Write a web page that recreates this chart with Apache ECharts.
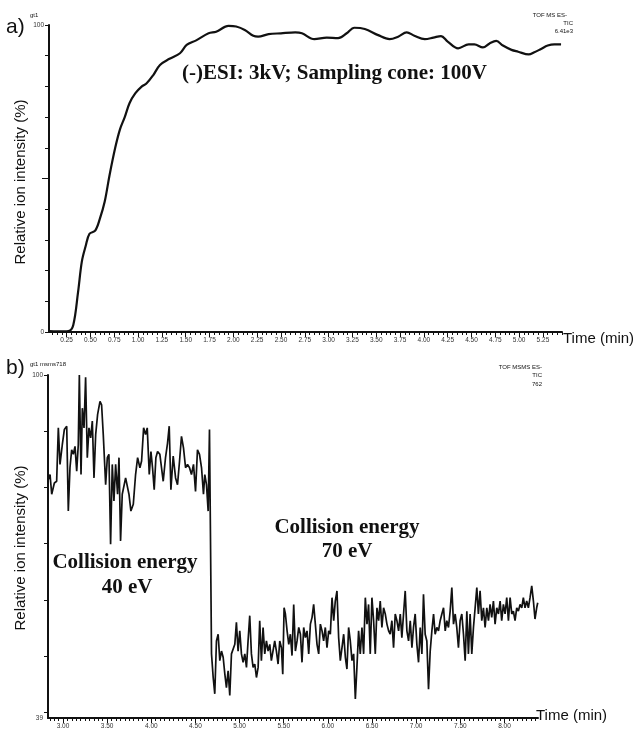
<!DOCTYPE html>
<html>
<head>
<meta charset="utf-8">
<script src="https://cdn.jsdelivr.net/npm/echarts@6/dist/echarts.min.js"></script>
<style>
html,body{margin:0;padding:0;background:#fff;}
#chart{width:633px;height:731px;}
</style>
</head>
<body>
<div id="chart"></div>
<script>
// ---------- DATA ----------
// Panel a) TIC, (-)ESI 3kV, sampling cone 100V : [time (min), relative intensity (%)]
var topData = [
 [0.065,0.3],[0.15,0.2],[0.22,0.2],[0.27,0.3],[0.32,2.3],[0.37,13],[0.41,23],[0.45,28],[0.49,32],[0.55,33],
 [0.60,37],[0.65,42.5],[0.70,51],[0.76,60],[0.81,66],[0.86,70],[0.91,74.5],[0.97,77.7],[1.04,80],[1.09,81],
 [1.16,83.7],[1.23,87],[1.33,89],[1.44,90.8],[1.51,93.5],[1.61,95],[1.74,97.3],[1.82,97.8],[1.95,99.7],[2.03,99.5],
 [2.12,98.4],[2.21,96.5],[2.26,96.2],[2.37,97],[2.50,97.3],[2.65,97.6],[2.72,97.3],[2.85,95.4],[2.98,95.9],[3.10,95.7],
 [3.19,97.3],[3.27,99.1],[3.38,98.7],[3.52,96.7],[3.64,95.4],[3.73,96.2],[3.82,97.6],[3.90,96.5],[4.01,95.4],[4.10,95.9],
 [4.18,96.4],[4.25,94.6],[4.36,92.4],[4.47,93.7],[4.53,93.7],[4.62,92.7],[4.69,94],[4.76,94.8],[4.83,93.3],[4.92,91.9],
 [4.99,91.3],[5.10,90.4],[5.16,91.1],[5.23,92.2],[5.30,93.3],[5.37,93.7],[5.44,93.7]
];
// Panel b) TIC, MS/MS of m/z 718 : collision energy 40 eV then 70 eV
var bottomData = [
 [2.827,81.1],[2.853,82.3],[2.872,78.8],[2.902,80.8],[2.928,81.1],[2.947,90.6],[2.966,84.1],[2.992,87.6],[3.015,90.3],[3.042,90.9],
 [3.060,75.8],[3.079,83.5],[3.098,86.7],[3.117,85.9],[3.136,87.3],[3.155,82.9],[3.173,87.6],[3.185,100],[3.204,82.3],[3.219,94.1],
 [3.238,90.6],[3.256,99.6],[3.275,85.3],[3.294,90.6],[3.313,88.8],[3.332,91.8],[3.351,81.7],[3.370,89.4],[3.392,93.0],[3.419,95.3],
 [3.437,94.7],[3.456,89.4],[3.483,80.5],[3.502,85.3],[3.520,85.9],[3.539,69.9],[3.558,84.1],[3.577,77.6],[3.596,84.1],[3.618,78.8],
 [3.634,85.3],[3.652,70.5],[3.671,78.8],[3.690,78.8],[3.709,81.7],[3.728,81.7],[3.747,78.8],[3.769,75.8],[3.796,77.0],[3.822,82.3],
 [3.845,85.3],[3.871,83.5],[3.890,84.7],[3.913,90.6],[3.935,89.4],[3.954,90.6],[3.977,82.3],[3.996,86.4],[4.014,83.5],[4.033,79.6],
 [4.052,85.3],[4.071,86.4],[4.097,85.9],[4.116,83.5],[4.135,81.1],[4.161,85.3],[4.184,87.9],[4.203,90.9],[4.222,79.6],[4.248,85.6],
 [4.275,81.7],[4.297,80.5],[4.320,84.7],[4.342,89.1],[4.365,87.0],[4.388,83.5],[4.410,84.1],[4.433,83.5],[4.455,82.3],[4.478,84.1],
 [4.501,79.3],[4.523,86.7],[4.546,85.9],[4.569,83.5],[4.591,78.8],[4.606,82.3],[4.625,80.5],[4.644,75.8],[4.659,90.3],[4.670,71.7],
 [4.682,50.4],[4.701,46.2],[4.719,43.3],[4.738,52.7],[4.757,53.9],[4.776,49.2],[4.795,50.9],[4.814,49.8],[4.833,46.8],[4.851,44.4],
 [4.870,47.4],[4.889,43.0],[4.908,50.4],[4.927,50.7],[4.946,52.1],[4.964,56.0],[4.983,50.9],[5.002,54.5],[5.021,50.4],[5.040,48.9],
 [5.059,50.4],[5.078,48.0],[5.096,52.7],[5.115,57.2],[5.134,50.4],[5.153,48.0],[5.172,48.6],[5.191,46.2],[5.210,48.0],[5.228,56.3],
 [5.247,49.2],[5.266,55.1],[5.285,50.4],[5.304,52.7],[5.323,50.9],[5.342,52.1],[5.360,49.2],[5.379,49.2],[5.398,52.7],[5.417,50.9],
 [5.436,48.6],[5.455,52.7],[5.474,51.5],[5.489,46.8],[5.504,58.6],[5.519,57.5],[5.538,54.5],[5.557,52.1],[5.575,53.9],[5.594,50.1],
 [5.613,59.2],[5.632,50.9],[5.651,52.7],[5.670,55.1],[5.689,53.9],[5.707,48.9],[5.726,55.1],[5.745,53.3],[5.764,54.5],[5.783,50.4],
 [5.802,55.7],[5.821,56.9],[5.839,59.2],[5.858,55.7],[5.877,52.1],[5.896,50.4],[5.915,55.7],[5.934,54.5],[5.952,52.7],[5.971,55.1],
 [5.990,51.5],[6.009,54.5],[6.028,53.9],[6.047,60.4],[6.066,56.3],[6.084,59.8],[6.103,61.6],[6.122,53.3],[6.141,49.2],[6.160,51.5],
 [6.179,53.9],[6.198,49.8],[6.216,47.7],[6.235,55.1],[6.254,52.7],[6.273,49.2],[6.292,50.4],[6.311,42.4],[6.329,48.0],[6.348,54.5],
 [6.367,50.4],[6.386,55.1],[6.405,50.4],[6.424,60.4],[6.443,55.7],[6.461,59.2],[6.480,50.4],[6.499,60.4],[6.518,56.3],[6.537,50.4],
 [6.556,58.6],[6.575,56.3],[6.593,59.8],[6.612,55.1],[6.631,58.6],[6.650,57.5],[6.669,55.7],[6.688,54.5],[6.706,53.9],[6.725,56.3],
 [6.744,51.5],[6.763,57.5],[6.782,56.3],[6.801,54.5],[6.820,57.5],[6.838,53.3],[6.857,57.5],[6.876,61.6],[6.895,54.5],[6.914,52.7],
 [6.933,56.3],[6.952,51.5],[6.970,55.1],[6.989,57.5],[7.008,52.1],[7.027,48.9],[7.046,55.1],[7.065,50.4],[7.083,61.0],[7.102,53.9],
 [7.121,52.7],[7.140,44.1],[7.159,50.9],[7.178,54.5],[7.197,57.5],[7.215,53.9],[7.234,55.1],[7.253,54.5],[7.272,56.3],[7.291,57.5],
 [7.310,58.6],[7.329,54.5],[7.347,56.3],[7.366,55.1],[7.385,58.0],[7.404,62.2],[7.423,55.7],[7.442,57.5],[7.460,55.1],[7.479,51.5],
 [7.498,56.3],[7.517,57.5],[7.536,53.9],[7.555,49.2],[7.574,58.0],[7.592,50.4],[7.611,57.5],[7.630,50.4],[7.649,55.1],[7.668,58.6],
 [7.687,62.2],[7.705,57.5],[7.724,61.6],[7.743,56.3],[7.762,58.6],[7.781,55.1],[7.800,58.6],[7.819,56.3],[7.837,59.2],[7.856,56.9],
 [7.875,59.8],[7.894,55.7],[7.913,58.6],[7.932,57.5],[7.951,59.8],[7.969,56.3],[7.988,59.2],[8.007,57.5],[8.026,60.4],[8.045,56.3],
 [8.064,60.4],[8.083,57.5],[8.101,58.0],[8.120,56.3],[8.139,58.6],[8.158,58.0],[8.177,59.2],[8.196,58.6],[8.214,60.4],[8.233,58.6],
 [8.252,59.8],[8.271,58.6],[8.290,60.4],[8.309,62.5],[8.328,59.8],[8.346,56.6],[8.365,58.6],[8.377,59.5]
];
// Axis ranges and tick labels
var topXRange = [0.065, 5.45];
var topXLabels = [0.25,0.50,0.75,1.00,1.25,1.50,1.75,2.00,2.25,2.50,2.75,3.00,3.25,3.50,3.75,4.00,4.25,4.50,4.75,5.00,5.25];
var topYLabels = [0, 100];
var topYTicks = [0,10,20,30,40,50,60,70,80,90,100];
var bottomXRange = [2.83, 8.38];
var bottomXLabels = [3.00,3.50,4.00,4.50,5.00,5.50,6.00,6.50,7.00,7.50,8.00];
var bottomYRange = [39, 100];
var bottomYLabels = [39, 100];
var bottomYTicks = [40,50,60,70,80,90,100];

// minor tick positions (every 0.05 min)
function minorTicks(a, b) {
  var out = [];
  for (var k = Math.ceil(a * 20); k <= Math.floor(b * 20); k++) out.push(+(k / 20).toFixed(2));
  return out;
}

var INK = '#111';
var SANS = '"Liberation Sans", Arial, sans-serif';
var SERIF = '"Liberation Serif", "Times New Roman", serif';

function xAxisMain(grid, range, labels) {
  return {
    type: 'value', gridIndex: grid, min: range[0], max: range[1], position: 'bottom',
    axisLine: { show: true, lineStyle: { color: INK, width: 2 } },
    axisTick: { show: true, length: 3, lineStyle: { color: INK, width: 1 }, customValues: minorTicks(range[0], range[1]) },
    axisLabel: { show: true, customValues: labels, fontSize: 6.5, color: '#333', margin: 5, fontFamily: SANS,
      formatter: function (v) { return v.toFixed(2); } },
    splitLine: { show: false }
  };
}
function xAxisMajor(grid, range, labels) {
  return {
    type: 'value', gridIndex: grid, min: range[0], max: range[1], position: 'bottom',
    axisLine: { show: false },
    axisTick: { show: true, length: 5, lineStyle: { color: INK, width: 1 }, customValues: labels },
    axisLabel: { show: false },
    splitLine: { show: false }
  };
}
function yAxisMain(grid, range, ticks, labels) {
  return {
    type: 'value', gridIndex: grid, min: range[0], max: range[1], position: 'left',
    axisLine: { show: true, lineStyle: { color: INK, width: 2 } },
    axisTick: { show: true, length: 4, lineStyle: { color: INK, width: 1 }, customValues: ticks },
    axisLabel: { show: true, customValues: labels, fontSize: 6.5, color: '#333', margin: 5, fontFamily: SANS },
    splitLine: { show: false }
  };
}

function txt(x, y, text, opt) {
  opt = opt || {};
  return {
    type: 'text', x: x, y: y, rotation: opt.rotation || 0, silent: true,
    style: {
      text: text, fill: opt.fill || INK,
      font: opt.font || ('12px ' + SANS),
      textAlign: opt.align || 'left', textVerticalAlign: opt.valign || 'middle'
    }
  };
}

var chart = echarts.init(document.getElementById('chart'), null, { renderer: 'canvas' });
chart.setOption({
  backgroundColor: '#fff',
  animation: false,
  grid: [
    { left: 49, top: 25, right: 71, bottom: 399 },
    { left: 48, top: 375, right: 95, bottom: 13 }
  ],
  xAxis: [
    xAxisMain(0, topXRange, topXLabels),
    xAxisMajor(0, topXRange, topXLabels),
    xAxisMain(1, bottomXRange, bottomXLabels),
    xAxisMajor(1, bottomXRange, bottomXLabels)
  ],
  yAxis: [
    yAxisMain(0, [0, 100], topYTicks, topYLabels),
    {
      type: 'value', gridIndex: 0, min: 0, max: 100, position: 'left',
      axisLine: { show: false }, axisLabel: { show: false }, splitLine: { show: false },
      axisTick: { show: true, length: 7, lineStyle: { color: INK, width: 1 }, customValues: [50] }
    },
    yAxisMain(1, bottomYRange, bottomYTicks, bottomYLabels)
  ],
  series: [
    { type: 'line', xAxisIndex: 0, yAxisIndex: 0, data: topData, showSymbol: false, smooth: 0.35,
      lineStyle: { color: INK, width: 2.2 } },
    { type: 'line', xAxisIndex: 2, yAxisIndex: 2, data: bottomData, showSymbol: false,
      lineStyle: { color: INK, width: 1.7 } }
  ],
  graphic: [
    txt(6, 27, 'a)', { font: '21px ' + SANS }),
    txt(30, 15, 'gt1', { font: '6px ' + SANS }),
    txt(567, 15, 'TOF MS ES-', { font: '6px ' + SANS, align: 'right' }),
    txt(573, 23, 'TIC', { font: '6px ' + SANS, align: 'right' }),
    txt(573, 31, '6.41e3', { font: '6px ' + SANS, align: 'right' }),
    txt(563, 339, 'Time (min)', { font: '15px ' + SANS }),
    txt(21, 182, 'Relative ion intensity (%)', { font: '15px ' + SANS, align: 'center', rotation: Math.PI / 2 }),
    txt(182, 74, '(-)ESI: 3kV; Sampling cone: 100V', { font: 'bold 21px ' + SERIF }),

    txt(6, 368, 'b)', { font: '21px ' + SANS }),
    txt(30, 364, 'gt1 msms718', { font: '6px ' + SANS }),
    txt(542, 367, 'TOF MSMS ES-', { font: '6px ' + SANS, align: 'right' }),
    txt(542, 375, 'TIC', { font: '6px ' + SANS, align: 'right' }),
    txt(542, 384, '762', { font: '6px ' + SANS, align: 'right' }),
    txt(536, 716, 'Time (min)', { font: '15px ' + SANS }),
    txt(21, 548, 'Relative ion intensity (%)', { font: '15px ' + SANS, align: 'center', rotation: Math.PI / 2 }),
    txt(125, 563, 'Collision energy', { font: 'bold 21px ' + SERIF, align: 'center' }),
    txt(127, 588, '40 eV', { font: 'bold 21px ' + SERIF, align: 'center' }),
    txt(347, 528, 'Collision energy', { font: 'bold 21px ' + SERIF, align: 'center' }),
    txt(347, 552, '70 eV', { font: 'bold 21px ' + SERIF, align: 'center' })
  ]
});
</script>
</body>
</html>
